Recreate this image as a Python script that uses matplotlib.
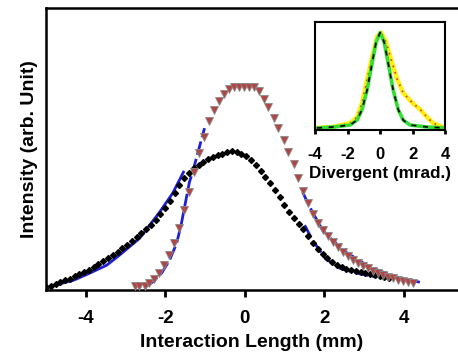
import matplotlib
matplotlib.use("Agg")
import matplotlib.pyplot as plt

plt.rcParams['font.family'] = ['Liberation Sans', 'DejaVu Sans']
plt.rcParams['font.weight'] = 'bold'

# main data: intensity (arb. unit) vs interaction length (mm)
black_x = [-5.00, -4.88, -4.76, -4.64, -4.52, -4.40, -4.28, -4.16, -4.04, -3.92,
           -3.80, -3.68, -3.56, -3.44, -3.32, -3.20, -3.08, -2.96, -2.84, -2.72,
           -2.60, -2.48, -2.36, -2.24, -2.12, -2.00, -1.88, -1.76, -1.64, -1.52,
           -1.40, -1.28, -1.16, -1.04, -0.92, -0.80, -0.68, -0.56, -0.44, -0.32,
           -0.20, -0.08, 0.04, 0.16, 0.28, 0.40, 0.52, 0.64, 0.76, 0.88,
           1.00, 1.12, 1.24, 1.36, 1.48, 1.60, 1.72, 1.84, 1.96, 2.08,
           2.20, 2.32, 2.44, 2.56, 2.68, 2.80, 2.92, 3.04, 3.16, 3.28,
           3.40, 3.52, 3.64]
black_y = [3, 4.5, 6, 8, 10, 11.5, 14, 16, 18, 20.5,
           23, 26, 29, 32, 35, 38, 42, 45, 49, 53,
           57, 61, 65, 70, 76, 82, 89, 97, 105, 112,
           117, 122, 125, 128, 131, 133, 135, 136.5, 138, 139,
           138, 136.5, 134, 130, 125, 119, 113, 107, 100, 93,
           85, 78, 72, 66, 61, 54, 47, 41, 36, 32,
           28, 25, 23, 21.5, 20, 19, 18, 17, 16, 15,
           14, 13, 12]

tri_x = [-2.77, -2.65, -2.52, -2.40, -2.27, -2.15, -2.02, -1.90, -1.77, -1.65,
         -1.52, -1.40, -1.27, -1.15, -1.02, -0.90, -0.77, -0.65, -0.52, -0.40,
         -0.27, -0.15, -0.02, 0.10, 0.23, 0.35, 0.48, 0.60, 0.73, 0.85,
         0.98, 1.10, 1.23, 1.35, 1.48, 1.60, 1.73, 1.85, 1.98, 2.10,
         2.23, 2.35, 2.48, 2.60, 2.73, 2.85, 2.98, 3.10, 3.23, 3.35,
         3.48, 3.60, 3.73, 3.85, 3.98, 4.10, 4.23]
tri_y = [4, 4, 4, 7, 11, 17, 25, 35, 47, 62,
         80, 98, 118, 137, 153, 169, 180, 189, 196, 201,
         203, 203, 203, 203, 203, 199, 191, 183, 172, 162,
         150, 138, 126, 112, 99, 87, 76, 67, 60, 54,
         48, 43, 38, 34, 30, 27, 24, 22, 19, 17,
         15, 13.5, 12, 10.5, 9, 8, 7]

# fits
fit_bl_x = [-5.00, -4.87, -4.30, -3.90, -3.47, -3.15, -2.64, -2.14, -1.81, -1.54]
fit_bl_y = [2, 4, 10, 17, 25, 35, 52, 78, 97, 118]
fit_br_x = [1.51, 1.71, 2.02, 2.39, 2.82, 3.32]
fit_br_y = [65, 50, 32, 22, 17, 13]
fit_tl_x = [-2.47, -2.32, -2.09, -1.89, -1.71, -1.59, -1.39, -1.31, -1.01]
fit_tl_y = [4, 8, 17, 30, 47, 67, 108, 118, 162]
fit_tr_x = [1.46, 1.64, 1.96, 2.47, 3.15, 3.90, 4.41]
fit_tr_y = [98, 83, 60, 40, 23, 12, 8]

# inset: divergence profiles
green_x = [-3.88, -2.89, -1.85, -1.42, -1.11, -0.80, -0.49, -0.25, 0.0, 0.25,
           0.49, 0.80, 1.11, 1.42, 1.85, 2.89, 4.0]
green_y = [0.02, 0.03, 0.05, 0.10, 0.21, 0.41, 0.69, 0.90, 1.0, 0.90,
           0.69, 0.41, 0.21, 0.10, 0.05, 0.03, 0.02]
yellow_x = [-3.88, -2.89, -1.85, -1.42, -1.11, -0.80, -0.49, -0.18, 0.06, 0.37,
            0.68, 1.05, 1.42, 1.97, 2.46, 2.89, 3.26, 3.82]
yellow_y = [0.02, 0.03, 0.07, 0.13, 0.28, 0.52, 0.75, 0.96, 1.0, 0.90,
            0.72, 0.52, 0.38, 0.28, 0.21, 0.13, 0.07, 0.03]

fig = plt.figure(figsize=(4.58, 3.53), dpi=100)
ax = fig.add_axes([0.1004, 0.178, 0.8996, 0.799])

blue = '#1f1fd6'
dash = (0, (5, 1.5))
ax.plot(fit_bl_x, fit_bl_y, color=blue, lw=2, zorder=2)
ax.plot(fit_tl_x, fit_tl_y, color=blue, lw=2, ls=dash, zorder=2)
ax.plot(fit_tr_x, fit_tr_y, color=blue, lw=2, ls=dash, zorder=2)
ax.plot(fit_br_x, fit_br_y, color=blue, lw=2, ls=dash, zorder=2)
ax.plot(black_x, black_y, ls='none', marker='D', ms=3, color='black', zorder=3)
ax.plot(tri_x, tri_y, ls='none', marker='v', ms=5.5, markerfacecolor='#b04545',
        markeredgecolor='#8a8a8a', markeredgewidth=0.6, zorder=3)

ax.set_xlim(-5.0, 5.37)
ax.set_ylim(0, 282)
ax.set_xticks([-4, -2, 0, 2, 4])
ax.set_xticklabels(['-4', '-2', '0', '2', '4'])
ax.set_yticks([])
ax.spines['right'].set_visible(False)
for s in ['left', 'top', 'bottom']:
    ax.spines[s].set_linewidth(1.8)
ax.tick_params(axis='x', direction='out', length=5, width=2, labelsize=13.5, pad=9)
ax.set_xlabel('Interaction Length (mm)', fontsize=14, fontweight='bold', labelpad=5)
ax.set_ylabel('Intensity (arb. Unit)', fontsize=14, fontweight='bold', labelpad=6)

# inset
ins = fig.add_axes([0.688, 0.632, 0.284, 0.306])
ins.plot(yellow_x, yellow_y, color='#ffee10', lw=3.2)
ins.plot(yellow_x, yellow_y, color='#d04020', lw=1.2, ls=(0, (1, 3)))
ins.plot(green_x, green_y, color='#33dd33', lw=2.6)
ins.plot(green_x, green_y, color='black', lw=1.2, ls=(0, (3, 4)))
ins.set_xlim(-4, 4)
ins.set_ylim(0, 1.11)
ins.set_xticks([-4, -2, 0, 2, 4])
ins.set_xticklabels(['-4', '-2', '0', '2', '4'])
ins.set_yticks([])
for s in ins.spines.values():
    s.set_linewidth(1.5)
ins.tick_params(axis='x', direction='out', length=3, width=2, labelsize=12, pad=9.5)
ins.set_xlabel('Divergent (mrad.)', fontsize=12.3, fontweight='bold', labelpad=3)

fig.savefig('out.png', dpi=100)
